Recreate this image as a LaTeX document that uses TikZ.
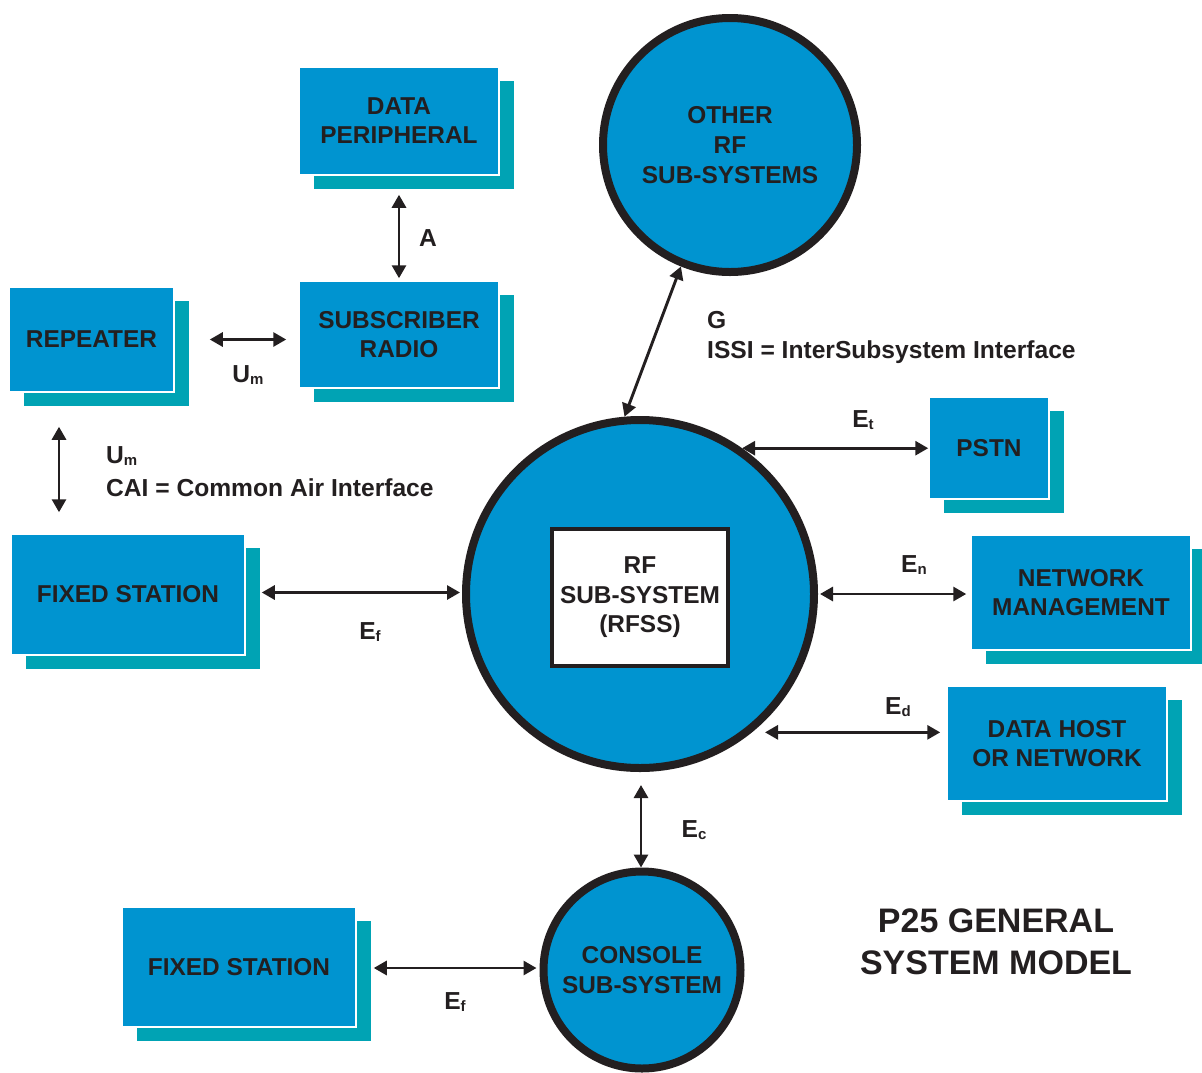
\documentclass[tikz,border=0pt]{standalone}
\usepackage{fontspec}
\setmainfont{Liberation Sans}
\usetikzlibrary{arrows.meta, shadows}

\definecolor{p25blue}{RGB}{0,148,208}
\definecolor{p25teal}{RGB}{0,163,180}
\definecolor{p25ink}{RGB}{35,31,32}

% small lowered letter for interface names
\newcommand{\lowsub}[1]{\raisebox{-1.5pt}{\fontsize{15}{15}\selectfont #1}}

\begin{document}
\begin{tikzpicture}[x=1pt, y=-1pt,
    unit/.style={rectangle, fill=p25blue, draw=white, line width=1.5pt,
      inner sep=0pt, align=center, text=p25ink,
      font=\fontsize{24.4}{29}\selectfont\bfseries,
      copy shadow={shadow xshift=15pt, shadow yshift=-14pt, fill=p25teal, draw=none}},
    subsys/.style={circle, fill=p25blue, draw=p25ink, line width=8pt,
      inner sep=0pt, align=center, text=p25ink,
      font=\fontsize{24.4}{30}\selectfont\bfseries},
    link/.style={{Triangle[length=13pt,width=14pt]}-{Triangle[length=13pt,width=14pt]},
      line width=2.9pt, draw=p25ink},
    lbl/.style={text=p25ink, inner sep=0pt, font=\fontsize{24.6}{30}\selectfont\bfseries}]

      \useasboundingbox (0,0) rectangle (1202,1072);

      % Subscriber side
      \node[unit, minimum width=200pt, minimum height=108pt] (dataper) at (399,121) {DATA\\PERIPHERAL};
      \node[unit, minimum width=200pt, minimum height=107pt] (subradio) at (399,334.5) {SUBSCRIBER\\RADIO};
      \node[unit, minimum width=165pt, minimum height=105pt] (repeater) at (91.5,339.5) {REPEATER};
      \node[unit, minimum width=234pt, minimum height=121pt] (fixed1) at (128,594.5) {FIXED STATION};

      % Other RF sub-systems
      \node[subsys, minimum size=254pt] (otherrf) at (730,145) {OTHER\\RF\\SUB-SYSTEMS};

      % RF sub-system in the middle
      \node[subsys, minimum size=348pt] (rfss) at (640,594) {};
      \node[rectangle, fill=white, draw=p25ink, line width=4pt, inner sep=0pt,
        minimum width=176pt, minimum height=137pt, align=center, text=p25ink,
        font=\fontsize{24.4}{29.5}\selectfont\bfseries] (rfssbox) at (640,597.5) {RF\\SUB-SYSTEM\\(RFSS)};

      % Network side
      \node[unit, minimum width=120pt, minimum height=102pt] (pstn) at (989,448) {PSTN};
      \node[unit, minimum width=220pt, minimum height=115pt] (netman) at (1081,592.5) {NETWORK\\MANAGEMENT};
      \node[unit, minimum width=220pt, minimum height=115pt] (datahost) at (1057,743.5) {DATA HOST\\OR NETWORK};

      % Console sub-system
      \node[subsys, minimum size=197pt] (console) at (642,970) {CONSOLE\\SUB-SYSTEM};
      \node[unit, minimum width=234pt, minimum height=120pt] (fixed2) at (239,967) {FIXED STATION};

      % Interfaces
      \draw[link, shorten <=19pt, shorten >=2pt] (dataper.south) -- (subradio.north);
      \node[lbl] (alabel) at (428,238) {A};

      \draw[link, shorten <=35pt, shorten >=12pt] (repeater.east) -- (repeater.east -| subradio.west);
      \node[lbl] (umlabel) at (248,375) {U\lowsub{m}};

      \draw[link, shorten <=34pt, shorten >=21pt] ([xshift=-32.5pt]repeater.south) -- ([xshift=-32.5pt]repeater.south |- fixed1.north);
      \node[lbl, anchor=west, align=left, font=\fontsize{24.6}{33}\selectfont\bfseries] (cailabel) at (106,472) {U\lowsub{m}\\CAI = Common Air Interface};

      \draw[link, shorten <=16pt, shorten >=2pt] ([yshift=2pt]fixed1.east) -- ([yshift=2pt]fixed1.east -| rfss.west);
      \node[lbl] (eflabel) at (370,632) {E\lowsub{f}};

      \draw[link] (rfss.95.5) -- (otherrf.248);
      \node[lbl, anchor=west, align=left] (issilabel) at (707,337) {G\\ISSI = InterSubsystem Interface};

      \draw[link] (rfss.55) -- (rfss.55 -| pstn.west);
      \node[lbl] (etlabel) at (863,420) {E\lowsub{t}};

      \draw[link, shorten <=2pt, shorten >=4pt] (rfss.east) -- (rfss.east -| netman.west);
      \node[lbl] (enlabel) at (914,565) {E\lowsub{n}};

      \draw[link, shorten <=13pt, shorten >=6pt] (rfss.-51.3) -- (rfss.-51.3 -| datahost.west);
      \node[lbl] (edlabel) at (898,707) {E\lowsub{d}};

      \draw[link, shorten <=13pt] ([xshift=1pt]rfss.south) -- ([xshift=1pt]rfss.south |- console.north);
      \node[lbl] (eclabel) at (694,830) {E\lowsub{c}};

      \draw[link, shorten <=17pt, shorten >=3pt] ([yshift=-1pt]fixed2.east) -- ([yshift=-1pt]fixed2.east -| console.west);
      \node[lbl] (ef2label) at (455,1002) {E\lowsub{f}};

      % Title
      \node[lbl, align=center, font=\fontsize{34}{42}\selectfont\bfseries] (title) at (996,942) {P25 GENERAL\\SYSTEM MODEL};
    \end{tikzpicture}
\end{document}
